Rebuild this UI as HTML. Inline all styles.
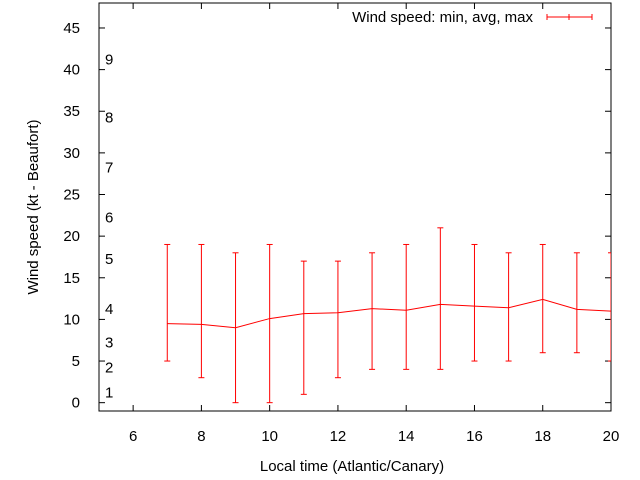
<!DOCTYPE html>
<html><head><meta charset="utf-8"><style>
body{margin:0;background:#fff}
svg{display:block;font-family:"Liberation Sans",sans-serif}
</style></head><body>
<svg id="chart" width="640" height="480" viewBox="0 0 640 480" xmlns="http://www.w3.org/2000/svg">
<g id="axes"></g>
<g id="series"></g>
<g>
<text x="533" y="22" font-size="15" text-anchor="end">Wind speed: min, avg, max</text>
<g stroke="#f00" stroke-width="1">
<line x1="547" y1="17" x2="592" y2="17"/><line x1="547" y1="14" x2="547" y2="20"/><line x1="592" y1="14" x2="592" y2="20"/><line x1="569" y1="14" x2="569" y2="20"/>
</g></g>
<text x="352" y="471" font-size="15" text-anchor="middle">Local time (Atlantic/Canary)</text>
<text transform="translate(38,207) rotate(-90)" font-size="15" text-anchor="middle">Wind speed (kt - Beaufort)</text>
</svg>
<script>
const hours=[7,8,9,10,11,12,13,14,15,16,17,18,19,20];
const avgSpeed=[9.5,9.4,9.0,10.1,10.7,10.8,11.3,11.1,11.8,11.6,11.4,12.4,11.2,11.0];
const minSpeed=[5,3,0,0,1,3,4,4,4,5,5,6,6,5];
const maxSpeed=[19,19,18,19,17,17,18,19,21,19,18,19,18,18];
const xTicks=[6,8,10,12,14,16,18,20];
const yTicks=[0,5,10,15,20,25,30,35,40,45];
const beaufortLabels=["1","2","3","4","5","6","7","8","9"];
const beaufortKt=[1,4,7,11,17,22,28,34,41];
const L=99,R=611,T=3,B=411,X0=5,X1=20,Y0=-1,Y1=48;
const sx=v=>L+(v-X0)/(X1-X0)*(R-L);
const sy=v=>B-(v-Y0)/(Y1-Y0)*(B-T);
const NS="http://www.w3.org/2000/svg";
function mk(p,tag,a){const e=document.createElementNS(NS,tag);for(const k in a)e.setAttribute(k,a[k]);p.appendChild(e);return e;}
const ax=document.getElementById('axes');
const fr=mk(ax,'rect',{x:L,y:T,width:R-L,height:B-T,fill:'none',stroke:'#000','stroke-width':1});


xTicks.forEach(v=>{const x=sx(v);
mk(ax,'line',{x1:x,y1:B,x2:x,y2:B-6,stroke:'#000'});
mk(ax,'line',{x1:x,y1:T,x2:x,y2:T+6,stroke:'#000'});
const t=mk(ax,'text',{x:x,y:B+30,'font-size':15,'text-anchor':'middle'});t.textContent=v;

});
yTicks.forEach(v=>{const y=sy(v);
mk(ax,'line',{x1:L,y1:y,x2:L+6,y2:y,stroke:'#000'});
mk(ax,'line',{x1:R,y1:y,x2:R-6,y2:y,stroke:'#000'});
const t=mk(ax,'text',{x:80,y:y+5,'font-size':15,'text-anchor':'end'});t.textContent=v;

});
beaufortLabels.forEach((s,i)=>{const t=mk(ax,'text',{x:105,y:sy(beaufortKt[i])+3,'font-size':15});t.textContent=s;

});
const se=document.getElementById('series');
const cp=mk(se,'clipPath',{id:'cp'});mk(cp,'rect',{x:L,y:T,width:R-L,height:B-T});
const g=mk(se,'g',{'clip-path':'url(#cp)',stroke:'#f00','stroke-width':1,fill:'none'});
const ln=mk(g,'polyline',{points:hours.map((h,i)=>sx(h)+','+sy(avgSpeed[i])).join(' ')});


hours.forEach((h,i)=>{const x=sx(h),y1=sy(minSpeed[i]),y2=sy(maxSpeed[i]);
const e=mk(g,'g',{});


mk(e,'line',{x1:x,y1:y1,x2:x,y2:y2});
mk(e,'line',{x1:x-3,y1:y1,x2:x+3,y2:y1});
mk(e,'line',{x1:x-3,y1:y2,x2:x+3,y2:y2});});
</script>
</body></html>
